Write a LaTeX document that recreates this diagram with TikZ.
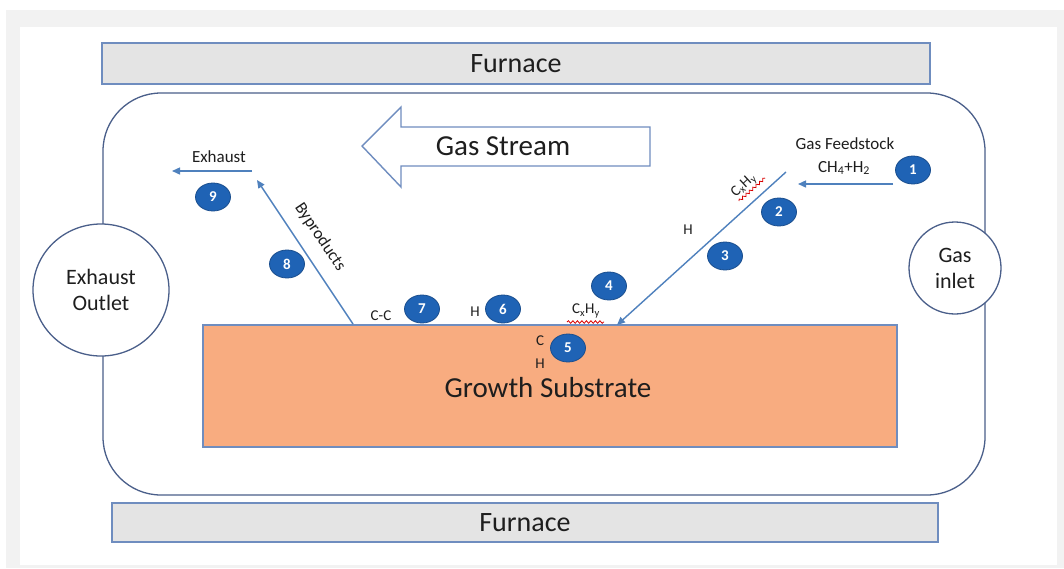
\documentclass[tikz,border=0pt]{standalone}
\usepackage{fontspec}
\setmainfont{Carlito}
\usetikzlibrary{arrows.meta,shapes.geometric,decorations.pathmorphing}

\definecolor{framegray}{HTML}{F2F2F2}
\definecolor{furnfill}{HTML}{E4E4E4}
\definecolor{edgeblue}{HTML}{6F8DBF}
\definecolor{vessel}{HTML}{4A5F8A}
\definecolor{flowblue}{HTML}{4F81BD}
\definecolor{badgeblue}{HTML}{1F63B5}
\definecolor{badgeedge}{HTML}{1A4E8E}
\definecolor{substr}{HTML}{F8AC80}
\definecolor{ink}{HTML}{1E1E1E}

\tikzset{
  furnbox/.style={draw=edgeblue, line width=1.6pt, fill=furnfill, text=ink,
    font=\fontsize{28}{32}\selectfont, inner sep=0pt},
  portcircle/.style={draw=vessel, line width=1.3pt, fill=white, text=ink,
    font=\fontsize{22}{26}\selectfont, align=center, inner sep=0pt},
  flowline/.style={draw=flowblue, line width=1.4pt,
    -{Triangle[length=8pt,width=7pt]}},
  badge/.style={ellipse, fill=badgeblue, draw=badgeedge, line width=0.8pt,
    minimum width=35pt, minimum height=28pt, inner sep=0pt, text=white,
    font=\fontsize{15}{17}\selectfont\bfseries},
  lbl/.style={text=ink, font=\fontsize{17}{20}\selectfont, inner sep=0pt},
  chem/.style={text=ink, font=\fontsize{15}{18}\selectfont, inner sep=0pt},
  squiggle/.style={draw=red!85!black, line width=0.8pt, decorate,
    decoration={snake, amplitude=1.3pt, segment length=4.5pt}}
}

\begin{document}
\begin{tikzpicture}[x=1pt, y=-1pt]
  % page background and frame
  \fill[white] (0,0) rectangle (1064,568);
  \fill[framegray] (6,10) rectangle (1064,568);
  \fill[white] (20,27) rectangle (1057,565);
  \useasboundingbox (0,0) rectangle (1064,568);

  % furnace walls
  \node[furnbox, minimum width=828pt, minimum height=41pt] (furnTop) at (516,63.5) {Furnace};
  \node[furnbox, minimum width=826pt, minimum height=39pt] (furnBot) at (525,522.5) {Furnace};

  % reactor tube
  \node[draw=vessel, line width=1.3pt, rounded corners=58pt,
        minimum width=882pt, minimum height=402pt] (reactor) at (544,294) {};

  % inlet and outlet ports
  \node[portcircle, circle, minimum size=92pt] (inlet) at (955,268) {Gas\\inlet};
  \node[portcircle, ellipse, minimum width=136pt, minimum height=132pt] (outlet) at (101,290) {Exhaust\\Outlet};

  % substrate
  \node[draw=edgeblue, line width=1.4pt, fill=substr,
        minimum width=694pt, minimum height=122pt] (substrate) at (550,386) {};
  \node[text=ink, font=\fontsize{29}{34}\selectfont] (substrateLbl) at (548,388) {Growth Substrate};

  % gas stream block arrow
  \draw[draw=edgeblue, line width=1.4pt, fill=white]
    (362,146) -- (401,107) -- (401,127) -- (650,127) -- (650,166)
    -- (401,166) -- (401,187) -- cycle;
  \node[text=ink, font=\fontsize{29}{34}\selectfont] (streamLbl) at (503,146) {Gas Stream};

  % feedstock path
  \coordinate (feedStart) at (893,184);
  \coordinate (feedEnd) at (798,184);
  \coordinate (diagTop) at (786,172);
  \coordinate (landing) at (617,325);
  \draw[flowline] (feedStart) -- (feedEnd);
  \draw[flowline] (diagTop) -- (landing);
  \node[lbl] (feedLbl) at (845,144) {Gas Feedstock};
  \node[lbl] (feedGas) at (844,168) {CH\textsubscript{4}+H\textsubscript{2}};
  \node[chem, rotate=43] (cxhyA) at (744,186) {C\textsubscript{x}H\textsubscript{y}};
  \coordinate (sqA1) at (739,201);
  \coordinate (sqA2) at (765,178);
  \draw[squiggle] (sqA1) -- (sqA2);
  \node[chem] (hA) at (688,230) {H};

  % surface species
  \node[chem] (cxhyB) at (586,311) {C\textsubscript{x}H\textsubscript{y}};
  \coordinate (sqB1) at (567,322);
  \coordinate (sqB2) at (604,322);
  \draw[squiggle] (sqB1) -- (sqB2);
  \node[chem] (hB) at (475,312) {H};
  \node[chem] (cc) at (381,316) {C-C};
  \node[chem] (cS) at (540,341) {C};
  \node[chem] (hS) at (540,364) {H};

  % byproducts and exhaust
  \coordinate (byStart) at (353,324);
  \coordinate (byEnd) at (257,180);
  \coordinate (exStart) at (252,171);
  \coordinate (exEnd) at (172,171);
  \draw[flowline] (byStart) -- (byEnd);
  \draw[flowline] (exStart) -- (exEnd);
  \node[lbl, rotate=-56] (byLbl) at (320,237) {Byproducts};
  \node[lbl] (exLbl) at (219,157) {Exhaust};

  % step badges
  \node[badge] (s1) at (913,170) {1};
  \node[badge] (s2) at (779,212) {2};
  \node[badge] (s3) at (725,256) {3};
  \node[badge] (s4) at (609,286) {4};
  \node[badge] (s5) at (568,348) {5};
  \node[badge] (s6) at (503,309) {6};
  \node[badge] (s7) at (422,309) {7};
  \node[badge] (s8) at (287,264) {8};
  \node[badge] (s9) at (213,197) {9};
\end{tikzpicture}
\end{document}
